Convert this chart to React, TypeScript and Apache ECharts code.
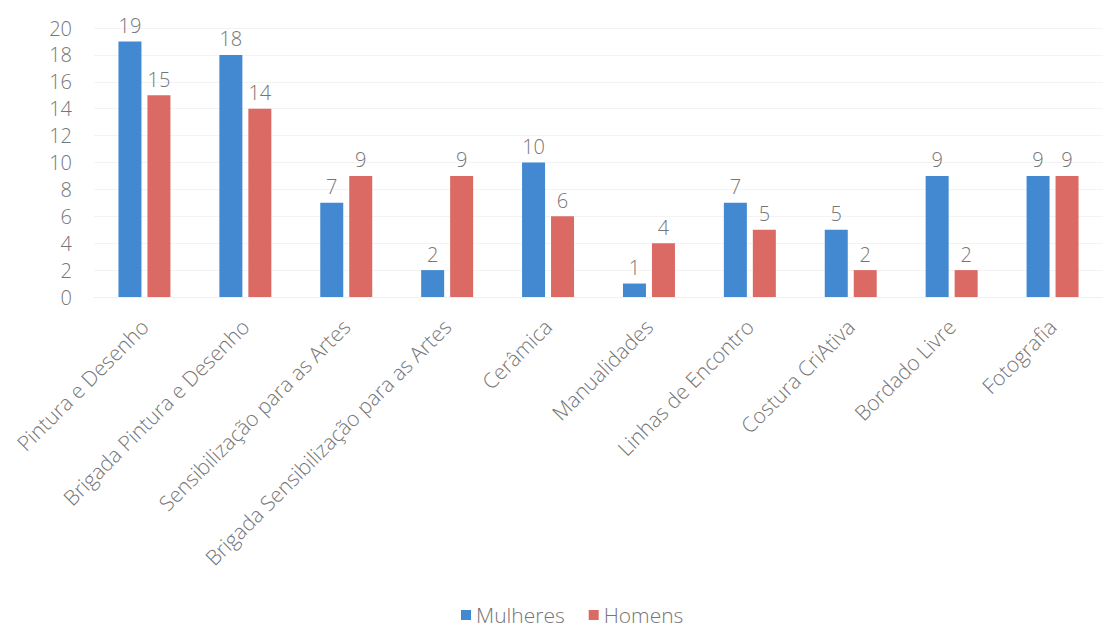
import React, { useEffect, useRef } from "react";
import * as echarts from "echarts";

const categories = [
  "Pintura e Desenho",
  "Brigada Pintura e Desenho",
  "Sensibilização para as Artes",
  "Brigada Sensibilização para as Artes",
  "Cerâmica",
  "Manualidades",
  "Linhas de Encontro",
  "Costura CriAtiva",
  "Bordado Livre",
  "Fotografia",
];
const mulheres = [19, 18, 7, 2, 10, 1, 7, 5, 9, 9];
const homens = [15, 14, 9, 9, 6, 4, 5, 2, 2, 9];
const seriesNames = ["Mulheres", "Homens"];

const FONT = "'Open Sans', 'Noto Sans', sans-serif";
const TXT = "#767676";

export default function App() {
  const ref = useRef<HTMLDivElement>(null);
  useEffect(() => {
    if (!ref.current) return;
    const chart = echarts.init(ref.current, undefined, { renderer: "svg" });
    const labelStyle = {
      show: true,
      position: "top" as const,
      distance: 6,
      color: TXT,
      fontSize: 20,
      fontWeight: 300,
      fontFamily: FONT,
    };
    chart.setOption({
      animation: false,
      backgroundColor: "#ffffff",
      textStyle: { fontFamily: FONT },
      grid: { left: 94, width: 1034, top: 28, height: 269, containLabel: false },
      legend: {
        bottom: 0,
        left: 461,
        padding: 0,
        itemWidth: 10,
        itemHeight: 10,
        itemGap: 24,
        icon: "rect",
        textStyle: { color: TXT, fontSize: 21, fontWeight: 300, fontFamily: FONT, lineHeight: 26 },
        data: seriesNames,
      },
      xAxis: {
        type: "category",
        data: categories,
        axisLine: { show: true, lineStyle: { color: "#f0f0f0" } },
        axisTick: { show: false },
        axisLabel: {
          interval: 0,
          rotate: 45,
          margin: 26,
          color: TXT,
          fontSize: 21,
          fontWeight: 300,
          fontFamily: FONT,
        },
      },
      yAxis: {
        type: "value",
        min: 0,
        max: 20,
        interval: 2,
        axisLine: { show: false },
        axisTick: { show: false },
        axisLabel: { color: TXT, fontSize: 20, fontWeight: 300, fontFamily: FONT, margin: 22 },
        splitLine: { lineStyle: { color: "#f3f3f3" } },
      },
      series: [
        {
          name: seriesNames[0],
          type: "bar",
          data: mulheres,
          barWidth: 23,
          barGap: "26%",
          itemStyle: { color: "#4289d2" },
          label: labelStyle,
        },
        {
          name: seriesNames[1],
          type: "bar",
          data: homens,
          barWidth: 23,
          itemStyle: { color: "#dc6a64" },
          label: labelStyle,
        },
      ],
    });
    return () => chart.dispose();
  }, []);
  return (
    <div
      ref={ref}
      style={{ position: "absolute", left: 0, top: 0, width: 1103, height: 628 }}
    />
  );
}
